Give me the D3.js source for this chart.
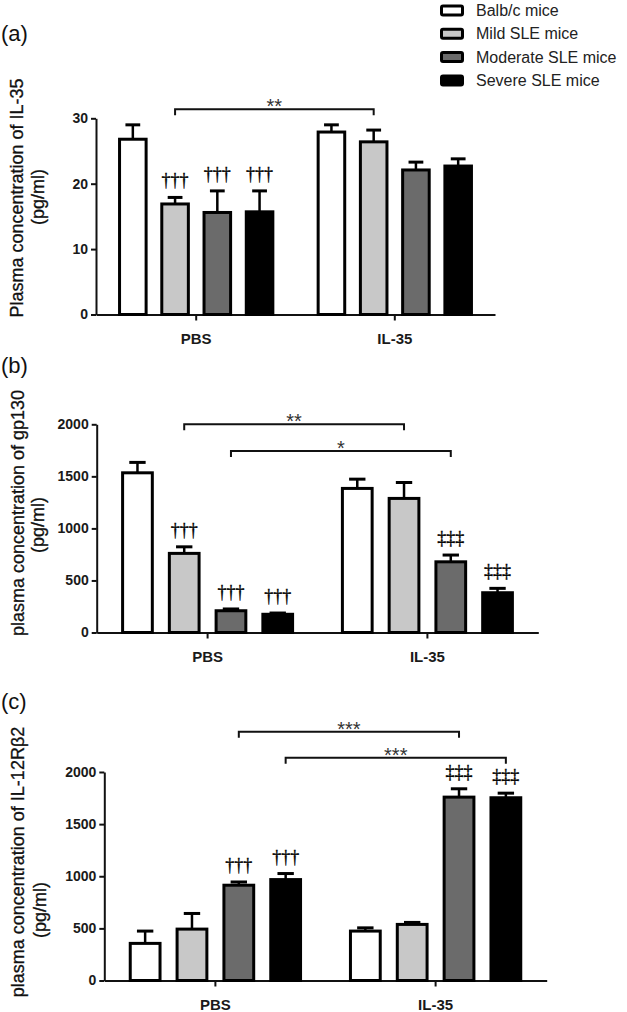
<!DOCTYPE html>
<html><head><meta charset="utf-8">
<script src="https://cdn.jsdelivr.net/npm/d3@7"></script>
<style>
html,body{margin:0;padding:0;background:#fff;}
svg{display:block;}
</style></head>
<body>
<svg id="chart" width="627" height="1012"></svg>
<script>
// ---- data ----
const groups = ["PBS", "IL-35"];
const series = ["Balb/c mice", "Mild SLE mice", "Moderate SLE mice", "Severe SLE mice"];
const seriesColors = ["#ffffff", "#c8c8c8", "#6b6b6b", "#000000"];

const il35Means  = [[26.8, 16.9, 15.6, 15.7], [27.9, 26.4, 22.1, 22.7]];
const il35Errors = [[2.2, 1.0, 3.3, 3.2], [1.1, 1.8, 1.2, 1.1]];
const il35Marks  = [["", "†††", "†††", "†††"], ["", "", "", ""]];
const il35Ticks  = [0, 10, 20, 30];
const il35Brackets = [{from: [0, 1], to: [1, 1], label: "**"}];

const gp130Means  = [[1534, 760, 209, 175], [1384, 1288, 679, 382]];
const gp130Errors = [[100, 63, 17, 12], [89, 153, 65, 42]];
const gp130Marks  = [["", "†††", "†††", "†††"], ["", "", "‡‡‡", "‡‡‡"]];
const gp130Ticks  = [0, 500, 1000, 1500, 2000];
const gp130Brackets = [{from: [0, 1], to: [1, 1], label: "**"}, {from: [0, 2], to: [1, 2], label: "*"}];

const il12Means  = [[356, 493, 914, 968], [474, 538, 1759, 1753]];
const il12Errors = [[118, 150, 31, 58], [31, 19, 80, 44]];
const il12Marks  = [["", "", "†††", "†††"], ["", "", "‡‡‡", "‡‡‡"]];
const il12Ticks  = [0, 500, 1000, 1500, 2000];
const il12Brackets = [{from: [0, 2], to: [1, 2], label: "***"}, {from: [0, 3], to: [1, 3], label: "***"}];

// ---- layout ----
const svg = d3.select("#chart");
const sans = "'Liberation Sans', Arial, sans-serif";
const serif = "'Liberation Serif', 'Times New Roman', serif";

const panels = [
  {tag: "(a)", tagY: 40.5, means: il35Means, errors: il35Errors, marks: il35Marks, ticks: il35Ticks,
   brackets: il35Brackets, bracketY: [109.3], yMax: 30,
   x0: 96, x1: 495, yBottom: 314.5, yTop: 118.3,
   title: "Plasma concentration of IL-35", titleX: [17, 38], titleY: [198, 197]},
  {tag: "(b)", tagY: 372.5, means: gp130Means, errors: gp130Errors, marks: gp130Marks, ticks: gp130Ticks,
   brackets: gp130Brackets, bracketY: [424.3, 451], yMax: 2000,
   x0: 96.7, x1: 538.3, yBottom: 632.5, yTop: 424.3,
   title: "plasma concentration of gp130", titleX: [18, 38], titleY: [513, 525]},
  {tag: "(c)", tagY: 708.5, means: il12Means, errors: il12Errors, marks: il12Marks, ticks: il12Ticks,
   brackets: il12Brackets, bracketY: [731.7, 757.7], yMax: 2000,
   x0: 104.3, x1: 546.7, yBottom: 980.5, yTop: 772,
   title: "plasma concentration of IL-12Rβ2", titleX: [18, 40], titleY: [862, 910]}
];

panels.forEach(p => {
  const g = svg.append("g");
  const x = d3.scaleBand().domain(groups).range([p.x0, p.x1]).paddingInner(0.213).paddingOuter(0.111);
  const xs = d3.scaleBand().domain(series).range([0, x.bandwidth()]).paddingInner(0.3).paddingOuter(0);
  const y = d3.scaleLinear().domain([0, p.yMax]).range([p.yBottom, p.yTop]);

  // panel tag
  g.append("text").attr("x", 1).attr("y", p.tagY).attr("font-family", sans)
    .attr("font-size", 22).attr("fill", "#111").text(p.tag);

  // y axis
  const ya = g.append("g").attr("transform", `translate(${p.x0},0)`)
    .call(d3.axisLeft(y).tickValues(p.ticks).tickFormat(d3.format("d"))
      .tickSize(5).tickPadding(3).tickSizeOuter(0));
  ya.select(".domain").attr("stroke", "#111").attr("stroke-width", 2);
  ya.selectAll(".tick line").attr("stroke", "#111").attr("stroke-width", 2);
  ya.selectAll(".tick text").attr("font-family", sans).attr("font-size", 14)
    .attr("font-weight", "bold").attr("fill", "#1a1a1a");

  // x axis
  const xa = g.append("g").attr("transform", `translate(0,${p.yBottom})`)
    .call(d3.axisBottom(x).tickSize(6).tickPadding(13).tickSizeOuter(0));
  xa.select(".domain").attr("stroke", "#111").attr("stroke-width", 2);
  xa.selectAll(".tick line").attr("stroke", "#111").attr("stroke-width", 2);
  xa.selectAll(".tick text").attr("font-family", sans).attr("font-size", 15)
    .attr("font-weight", "bold").attr("fill", "#1a1a1a");

  // y title
  [p.title, "(pg/ml)"].forEach((t, i) => {
    g.append("text")
      .attr("transform", `translate(${p.titleX[i]},${p.titleY[i]}) rotate(-90)`)
      .attr("text-anchor", "middle").attr("dominant-baseline", "central")
      .attr("font-family", sans).attr("font-size", 18).attr("fill", "#111")
      .attr("stroke", "#111").attr("stroke-width", 0.3).text(t);
  });

  // bars
  const rows = [];
  groups.forEach((gr, gi) => series.forEach((s, si) => rows.push({
    gr, s, si, v: p.means[gi][si], e: p.errors[gi][si], m: p.marks[gi][si]
  })));
  const bw = xs.bandwidth();

  // error bars (upper only)
  rows.forEach(d => {
    const cx = x(d.gr) + xs(d.s) + bw / 2;
    g.append("line").attr("x1", cx).attr("x2", cx).attr("y1", y(d.v)).attr("y2", y(d.v + d.e))
      .attr("stroke", "#000").attr("stroke-width", 2.5);
    g.append("line").attr("x1", cx - bw * 0.25).attr("x2", cx + bw * 0.25)
      .attr("y1", y(d.v + d.e)).attr("y2", y(d.v + d.e))
      .attr("stroke", "#000").attr("stroke-width", 3);
  });

  g.selectAll("rect.bar").data(rows).join("rect").attr("class", "bar")
    .attr("x", d => x(d.gr) + xs(d.s) + 1.5)
    .attr("width", bw - 3)
    .attr("y", d => y(d.v))
    .attr("height", d => y(0) - y(d.v))
    .attr("fill", d => seriesColors[d.si])
    .attr("stroke", "#000").attr("stroke-width", 3);

  // significance marks
  rows.filter(d => d.m).forEach(d => {
    const cx = x(d.gr) + xs(d.s) + bw / 2;
    g.append("text").attr("x", cx).attr("y", y(d.v + d.e) - 11)
      .attr("text-anchor", "middle").attr("font-family", serif).attr("font-size", 18)
      .attr("fill", "#000").attr("stroke", "#000").attr("stroke-width", 0.35).text(d.m);
  });

  // brackets
  p.brackets.forEach((b, bi) => {
    const xa1 = x(groups[b.from[0]]) + xs(series[b.from[1]]) + bw / 2;
    const xa2 = x(groups[b.to[0]]) + xs(series[b.to[1]]) + bw / 2;
    const by = p.bracketY[bi];
    g.append("path").attr("d", `M${xa1},${by + 6}V${by}H${xa2}V${by + 6}`)
      .attr("fill", "none").attr("stroke", "#111").attr("stroke-width", 2);
    g.append("text").attr("x", (xa1 + xa2) / 2).attr("y", by + 4)
      .attr("text-anchor", "middle").attr("font-family", sans).attr("font-size", 20)
      .attr("fill", "#333").text(b.label);
  });
});

// legend
const lg = svg.append("g");
series.forEach((s, i) => {
  const cy = 10.5 + i * 23.3;
  lg.append("rect").attr("x", 441.5).attr("y", cy - 4.5).attr("width", 21).attr("height", 9)
    .attr("rx", 1.5).attr("fill", seriesColors[i]).attr("stroke", "#000").attr("stroke-width", 3);
  lg.append("text").attr("x", 476).attr("y", cy + 5.6).attr("font-family", sans)
    .attr("font-size", 16).attr("fill", "#222").text(s);
});
</script>
</body></html>
